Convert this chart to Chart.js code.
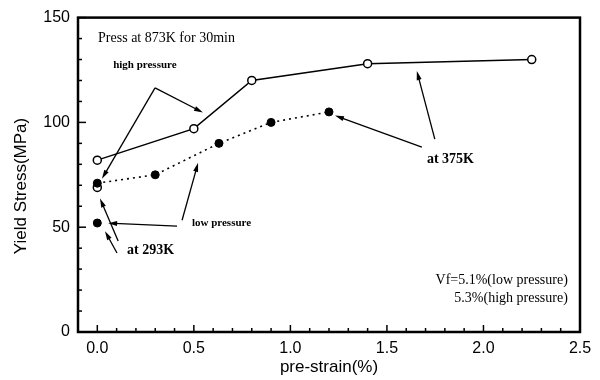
<!DOCTYPE html>
<html>
<head>
<meta charset="utf-8">
<script src="https://cdn.jsdelivr.net/npm/chart.js@4/dist/chart.umd.min.js"></script>
<style>
  body { margin: 0; background: #fff; }
  #wrap { width: 600px; height: 380px; }
</style>
</head>
<body>
<div id="wrap"><canvas id="c"></canvas></div>
<script>
// pre-strain (%) and yield stress (MPa)
const highX = [0, 0.5, 0.8, 1.4, 2.25];
const highY = [82, 97, 120, 128, 130];
const lowX = [0, 0.3, 0.63, 0.9, 1.2];
const lowY = [71, 75, 90, 100, 105];
const roomHighX = [0];
const roomHighY = [69];
const roomLowX = [0];
const roomLowY = [52];

const xTicks = [0, 0.5, 1.0, 1.5, 2.0, 2.5];
const yTicks = [0, 50, 100, 150];

function pts(xs, ys)
{
    return xs.map((x, i) => ({ x: x, y: ys[i] }));
}

// annotations in data coordinates
const labels = [
    { text: 'Press at 873K for 30min', x: 0.004, y: 140, align: 'left', font: '14px "Liberation Serif"' },
    { text: 'high pressure', x: 0.082, y: 127.4, align: 'left', font: 'bold 11px "Liberation Serif"' },
    { text: 'low pressure', x: 0.49, y: 51.9, align: 'left', font: 'bold 11px "Liberation Serif"' },
    { text: 'at 293K', x: 0.154, y: 38.7, align: 'left', font: 'bold 14px "Liberation Serif"' },
    { text: 'at 375K', x: 1.707, y: 82.5, align: 'left', font: 'bold 14px "Liberation Serif"' },
    { text: 'Vf=5.1%(low pressure)', x: 2.437, y: 24.5, align: 'right', font: '14px "Liberation Serif"' },
    { text: '5.3%(high pressure)', x: 2.437, y: 16.0, align: 'right', font: '14px "Liberation Serif"' }
];

const arrows = [
    [0.299, 116.5, 0.547, 104.7],
    [0.299, 116.5, 0.024, 73.1],
    [0.439, 53.3, 0.522, 80.7],
    [0.413, 50.5, 0.056, 51.9],
    [0.108, 43.4, 0.014, 63.7],
    [0.102, 37.7, 0.040, 48.1],
    [1.748, 92.0, 1.655, 124.5],
    [1.681, 88.2, 1.231, 103.3]
];

const framePlugin = {
    id: 'frame',
    afterDatasetsDraw(chart)
    {
        const ctx = chart.ctx;
        const a = chart.chartArea;
        const xs = chart.scales.x;
        const ys = chart.scales.y;
        ctx.save();
        ctx.strokeStyle = '#000';
        ctx.fillStyle = '#000';

        // inward ticks
        ctx.lineWidth = 1.5;
        for (let i = -1; i <= 25; i++)
        {
            const v = i / 10;
            const px = xs.getPixelForValue(v);
            const len = (i % 5 === 0) ? 7 : 4;
            ctx.beginPath();
            ctx.moveTo(px, a.bottom);
            ctx.lineTo(px, a.bottom - len);
            ctx.stroke();
        }
        for (let v = 0; v <= 150; v += 10)
        {
            const py = ys.getPixelForValue(v);
            const len = (v % 50 === 0) ? 8 : 4;
            ctx.beginPath();
            ctx.moveTo(a.left, py);
            ctx.lineTo(a.left + len, py);
            ctx.stroke();
        }

        // arrows
        ctx.lineWidth = 1.3;
        arrows.forEach((ar) =>
        {
            const x1 = xs.getPixelForValue(ar[0]), y1 = ys.getPixelForValue(ar[1]);
            const x2 = xs.getPixelForValue(ar[2]), y2 = ys.getPixelForValue(ar[3]);
            const ang = Math.atan2(y2 - y1, x2 - x1);
            ctx.beginPath();
            ctx.moveTo(x1, y1);
            ctx.lineTo(x2 - 6 * Math.cos(ang), y2 - 6 * Math.sin(ang));
            ctx.stroke();
            ctx.beginPath();
            ctx.moveTo(x2, y2);
            ctx.lineTo(x2 - 9 * Math.cos(ang) + 2.5 * Math.sin(ang), y2 - 9 * Math.sin(ang) - 2.5 * Math.cos(ang));
            ctx.lineTo(x2 - 9 * Math.cos(ang) - 2.5 * Math.sin(ang), y2 - 9 * Math.sin(ang) + 2.5 * Math.cos(ang));
            ctx.closePath();
            ctx.fill();
        });

        // text
        ctx.textBaseline = 'middle';
        labels.forEach((l) =>
        {
            ctx.font = l.font;
            ctx.textAlign = l.align;
            ctx.fillText(l.text, xs.getPixelForValue(l.x), ys.getPixelForValue(l.y));
        });

        // y axis title (sits a little below the centre in the original)
        ctx.save();
        ctx.translate(21, 186);
        ctx.rotate(-Math.PI / 2);
        ctx.textAlign = 'center';
        ctx.font = '17px "Liberation Sans"';
        ctx.fillText('Yield Stress(MPa)', 0, 0);
        ctx.restore();

        // frame
        ctx.lineWidth = 2.5;
        ctx.strokeRect(a.left, a.top, a.right - a.left, a.bottom - a.top);
        ctx.restore();
    }
};

new Chart(document.getElementById('c'), {
    type: 'scatter',
    data: {
        datasets: [
            {
                label: 'low pressure',
                data: pts(lowX, lowY),
                showLine: true,
                borderColor: '#000',
                borderWidth: 1.6,
                borderDash: [2, 4],
                pointRadius: 4,
                pointBackgroundColor: '#000',
                pointBorderColor: '#000',
                pointBorderWidth: 1
            },
            {
                label: 'high pressure',
                data: pts(highX, highY),
                showLine: true,
                borderColor: '#000',
                borderWidth: 1.5,
                pointRadius: 4,
                pointBackgroundColor: '#fff',
                pointBorderColor: '#000',
                pointBorderWidth: 1.5
            },
            {
                label: 'low pressure 293K',
                data: pts(roomLowX, roomLowY),
                pointRadius: 4,
                pointBackgroundColor: '#000',
                pointBorderColor: '#000'
            },
            {
                label: 'high pressure 293K',
                data: pts(roomHighX, roomHighY),
                pointRadius: 4,
                pointBackgroundColor: '#fff',
                pointBorderColor: '#000',
                pointBorderWidth: 1.5
            }
        ]
    },
    options: {
        responsive: true,
        maintainAspectRatio: false,
        animation: false,
        layout: { padding: { left: 0, right: 20, top: 14, bottom: 0 } },
        plugins: {
            legend: { display: false },
            tooltip: { enabled: false }
        },
        scales: {
            x: {
                type: 'linear',
                min: -0.1,
                max: 2.5,
                afterFit: (s) => { s.height = 48; },
                afterBuildTicks: (s) => { s.ticks = xTicks.map((v) => ({ value: v })); },
                grid: { display: false, drawTicks: false },
                border: { display: false },
                ticks: {
                    color: '#000',
                    padding: 7,
                    font: { family: '"Liberation Sans"', size: 16 },
                    callback: (v) => Number(v).toFixed(1)
                },
                title: {
                    display: true,
                    text: 'pre-strain(%)',
                    color: '#000',
                    padding: { top: 0, bottom: 2 },
                    font: { family: '"Liberation Sans"', size: 17 }
                }
            },
            y: {
                min: 0,
                max: 150,
                afterFit: (s) => { s.width = 78; },
                afterBuildTicks: (s) => { s.ticks = yTicks.map((v) => ({ value: v })); },
                grid: { display: false, drawTicks: false },
                border: { display: false },
                ticks: {
                    color: '#000',
                    padding: 8,
                    font: { family: '"Liberation Sans"', size: 16 }
                }
            }
        }
    },
    plugins: [framePlugin]
});
</script>
</body>
</html>
